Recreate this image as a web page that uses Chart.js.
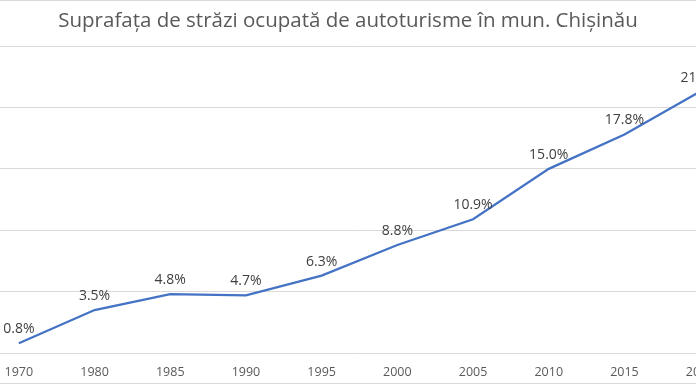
<!DOCTYPE html>
<html>
<head>
<meta charset="utf-8">
<script src="https://cdn.jsdelivr.net/npm/chart.js@4.4.1/dist/chart.umd.min.js"></script>
<style>
  html, body { margin: 0; padding: 0; background: #fff; overflow: hidden; width: 696px; height: 385px; }
  #frame { position: absolute; left: 0; top: 0; width: 696px; height: 382px; border-top: 1px solid #d9d9d9; border-bottom: 1px solid #d9d9d9; }
  #wrap { position: absolute; left: -42px; top: 0; width: 780px; height: 398px; }
</style>
</head>
<body>
<div id="frame"></div>
<div id="wrap"><canvas id="c"></canvas></div>
<script>
const chartTitle = "Suprafața de străzi ocupată de autoturisme în mun. Chișinău";
const years = ["1970", "1980", "1985", "1990", "1995", "2000", "2005", "2010", "2015", "2020"];
const sharePercent = [0.8, 3.5, 4.8, 4.7, 6.3, 8.8, 10.9, 15.0, 17.8, 21.3];
const yTicks = [0, 5, 10, 15, 20, 25];

const FONT = "'Open Sans', 'DejaVu Sans', sans-serif";

const labelPlugin = {
  id: 'pointLabels',
  afterDatasetsDraw(chart) {
    const ctx = chart.ctx;
    const meta = chart.getDatasetMeta(0);
    ctx.save();
    ctx.font = "14px " + FONT;
    ctx.fillStyle = "#404040";
    ctx.textAlign = "center";
    ctx.textBaseline = "middle";
    meta.data.forEach((pt, i) => {
      const v = chart.data.datasets[0].data[i];
      ctx.fillText(v.toFixed(1) + "%", pt.x, pt.y - 14);
    });
    ctx.restore();
  }
};

new Chart(document.getElementById('c'), {
  type: 'line',
  data: {
    labels: years,
    datasets: [{
      data: sharePercent,
      borderColor: '#4472C4',
      borderWidth: 2.25,
      pointRadius: 0,
      tension: 0,
      fill: false,
      clip: false
    }]
  },
  options: {
    responsive: true,
    maintainAspectRatio: false,
    animation: false,
    layout: { padding: { top: 0, left: 0, right: 0, bottom: 6 } },
    plugins: {
      legend: { display: false },
      tooltip: { enabled: false },
      title: {
        display: true,
        text: chartTitle,
        color: '#595959',
        font: { family: FONT, size: 20.5, weight: 'normal' },
        padding: { top: 9, bottom: 12.5 }
      }
    },
    scales: {
      x: {
        type: 'category',
        offset: true,
        grid: { display: false, drawTicks: false },
        border: { display: false },
        ticks: { color: '#595959', font: { family: FONT, size: 12.5 }, padding: 12, maxRotation: 0, autoSkip: false }
      },
      y: {
        position: 'left',
        min: 0,
        max: 25,
        afterBuildTicks(scale) { scale.ticks = yTicks.map(v => ({ value: v })); },
        afterFit(scale) { scale.width = 23; },
        grid: { color: '#d9d9d9', lineWidth: 1, drawTicks: false },
        border: { display: false },
        ticks: { display: false }
      }
    }
  },
  plugins: [labelPlugin]
});
</script>
</body>
</html>
